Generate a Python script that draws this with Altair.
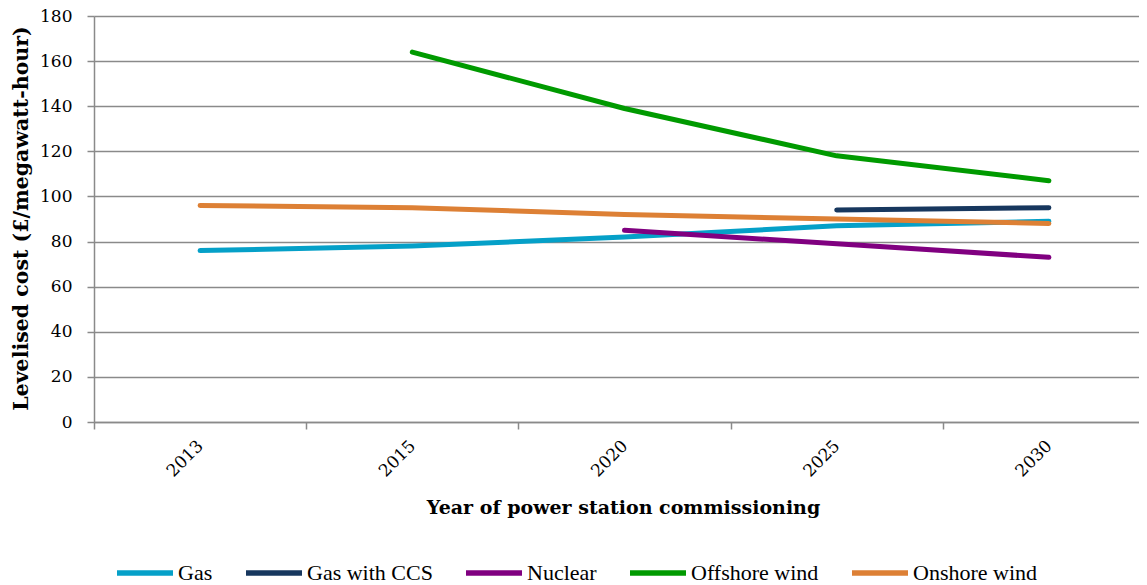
import altair as alt
import pandas as pd

years = ["2013", "2015", "2020", "2025", "2030"]
series = ["Gas", "Gas with CCS", "Nuclear", "Offshore wind", "Onshore wind"]
colors = ["#05A0C8", "#17375E", "#800080", "#009A00", "#DD8035"]

gas = [76, 78, 82, 87, 89]
gas_ccs = [None, None, None, 94, 95]
nuclear = [None, None, 85, 79, 73]
offshore = [None, 164, 139, 118, 107]
onshore = [96, 95, 92, 90, 88]

rows = []
for name, vals in zip(series, [gas, gas_ccs, nuclear, offshore, onshore]):
    for yr, v in zip(years, vals):
        if v is not None:
            rows.append({"year": yr, "series": name, "cost": v})
df = pd.DataFrame(rows)

FONT = "DejaVu Serif"
LEGEND_FONT = "Liberation Serif"
GRID = "#8A8A8A"

chart = alt.Chart(df).mark_line(
    strokeWidth=5, strokeCap="round", strokeJoin="round"
).encode(
    x=alt.X(
        "year:N",
        sort=years,
        bandPosition=0.5,
        scale=alt.Scale(type="band", domain=years, range=[0, 1061],
                        paddingInner=0, paddingOuter=0),
        axis=alt.Axis(
            title="Year of power station commissioning",
            titleFont=FONT, titleFontSize=19, titleFontWeight="bold",
            titleColor="black", titleX=529, titleY=85,
            titleBaseline="middle", titleAlign="center",
            labelFont=FONT, labelFontSize=17, labelColor="black",
            labelAngle=-45, labelAlign="right", labelBaseline="middle",
            labelPadding=14,
            tickBand="extent", ticks=True, tickSize=7, tickColor=GRID,
            tickWidth=1.5, domainColor=GRID, domainWidth=1.5, grid=False,
        ),
    ),
    y=alt.Y(
        "cost:Q",
        scale=alt.Scale(domain=[0, 180], nice=False),
        axis=alt.Axis(
            title="Levelised cost (£/megawatt-hour)",
            titleFont=FONT, titleFontSize=20.5, titleFontWeight="bold",
            titleColor="black", titleX=-73, titleY=202, titleAngle=-90,
            titleBaseline="middle", titleAlign="center",
            values=list(range(0, 181, 20)),
            labelFont=FONT, labelFontSize=17, labelColor="black",
            labelPadding=15,
            tickSize=7, tickColor=GRID, tickWidth=1.5,
            domainColor=GRID, domainWidth=1.5,
            grid=True, gridColor=GRID, gridWidth=1.5,
        ),
    ),
    color=alt.Color(
        "series:N",
        scale=alt.Scale(domain=series, range=colors),
        legend=alt.Legend(
            orient="none", legendX=20, legendY=526, direction="horizontal",
            title=None, symbolType="stroke", symbolSize=3136,
            symbolStrokeWidth=5.5, labelFont=LEGEND_FONT, labelFontSize=22,
            labelColor="black", columnPadding=22, labelOffset=2,
        ),
    ),
).properties(
    width=1045,
    height=406,
    autosize=alt.AutoSizeParams(type="none"),
    padding={"left": 86, "top": 8, "right": 0, "bottom": 163},
).configure_view(strokeWidth=0)

chart.save("out.html", embed_options={"renderer": "svg", "actions": False})
